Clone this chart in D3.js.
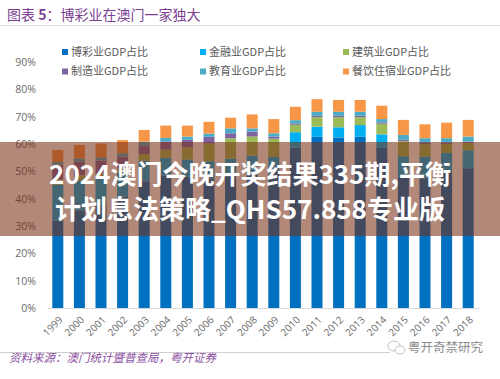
<!DOCTYPE html>
<html><head><meta charset="utf-8">
<script src="https://cdn.jsdelivr.net/npm/d3@7"></script>
<style>
html,body{margin:0;padding:0;background:#fff;}
svg{display:block;}
</style></head>
<body>
<svg id="chart" width="500" height="379"></svg>
<script>
const years = ["1999","2000","2001","2002","2003","2004","2005","2006","2007","2008","2009","2010","2011","2012","2013","2014","2015","2016","2017","2018"];
const seriesNames = ["博彩业GDP占比","金融业GDP占比","建筑业GDP占比","制造业GDP占比","教育业GDP占比","餐饮住宿业GDP占比"];
const seriesColors = ["#0070C0","#00B0F0","#9BBB59","#8064A2","#4BACC6","#F79646"];
// values in percent
const gambling      = [32.0,35.8,37.8,40.7,46.4,48.5,48.1,47.3,48.2,48.8,50.0,58.8,62.7,62.5,62.7,58.6,48.0,47.5,49.5,51.2];
const finance       = [13.2,11.0,10.0, 9.0, 7.5, 6.5, 6.3, 6.5, 6.5, 7.0, 5.3, 5.6, 3.7, 3.7, 4.3, 5.0, 7.6, 8.0, 7.3, 6.6];
const construction  = [ 1.8, 1.8, 1.6, 1.6, 2.5, 3.0, 4.5, 6.5, 7.5, 7.0, 6.7, 2.7, 3.5, 3.7, 2.9, 3.9, 5.5, 4.5, 3.3, 2.7];
const manufacturing = [ 5.5, 5.0, 4.6, 4.2, 3.0, 3.0, 2.7, 2.4, 1.8, 1.8, 0.8, 0.5, 0.5, 0.5, 0.5, 0.5, 0.5, 0.5, 0.5, 0.5];
const education     = [ 1.0, 1.2, 1.2, 1.2, 1.5, 1.3, 1.2, 1.2, 1.8, 1.2, 1.2, 1.2, 1.5, 1.5, 1.5, 1.2, 1.8, 1.7, 1.6, 1.8];
const catering      = [ 4.4, 4.9, 5.0, 4.8, 4.3, 4.5, 4.0, 4.3, 3.9, 5.1, 5.2, 4.9, 4.6, 4.3, 4.3, 4.9, 5.5, 5.1, 5.7, 6.1];
const yTicks = [0,10,20,30,40,50,60,70,80,90];

const seriesData = [gambling, finance, construction, manufacturing, education, catering];
const table = years.map((y,i)=>{
  const o = {year:y};
  seriesNames.forEach((n,k)=>{ o[n] = seriesData[k][i]; });
  return o;
});

const svg = d3.select("#chart");
const CJK = "'Noto Sans CJK SC','Noto Sans',sans-serif";
const LAT = "'Open Sans','Liberation Sans',sans-serif";

// title
const title = svg.append("text").attr("x",7).attr("y",20)
  .attr("font-family",CJK).attr("font-size",14).attr("fill","#7B3F91");
title.append("tspan").text("图表 ");
title.append("tspan").attr("font-weight","bold").text("5");
title.append("tspan").text("：博彩业在澳门一家独大");
svg.append("line").attr("x1",0).attr("x2",500).attr("y1",25.5).attr("y2",25.5)
  .attr("stroke","#DCDCDC").attr("stroke-width",1);

const x = d3.scaleBand().domain(years).range([47,479]).paddingInner(0.49).paddingOuter(0.245);
const y = d3.scaleLinear().domain([0,90]).range([308,62.3]);

const stacked = d3.stack().keys(seriesNames)(table);

svg.append("g").selectAll("g").data(stacked).join("g")
  .attr("fill",(d,i)=>seriesColors[i])
  .selectAll("rect").data(d=>d).join("rect")
  .attr("x",d=>x(d.data.year))
  .attr("width",x.bandwidth())
  .attr("y",d=>y(d[1]))
  .attr("height",d=>y(d[0])-y(d[1]));

// y axis
const yAxis = d3.axisLeft(y).tickValues(yTicks).tickFormat(d=>d+"%").tickSize(0).tickPadding(0);
const gy = svg.append("g").attr("transform","translate(36,0)").call(yAxis);
gy.select(".domain").remove();
gy.selectAll("text").attr("font-family",LAT).attr("font-size",10.5).attr("fill","#6a6a6a");

// x axis
const xAxis = d3.axisBottom(x).tickSize(0).tickPadding(0);
const gx = svg.append("g").attr("transform","translate(0,308)").call(xAxis);
gx.select(".domain").attr("stroke","#D9D9D9");
gx.selectAll("text").attr("font-family",LAT).attr("font-size",10).attr("fill","#6a6a6a")
  .attr("text-anchor","end").attr("dy","0.35em")
  .attr("transform","translate(3,10) rotate(-45)");

// legend
const legPos = [[62,52],[200,52],[343,52],[62,71.5],[200,71.5],[343,71.5]];
const leg = svg.append("g").selectAll("g").data(seriesNames).join("g")
  .attr("transform",(d,i)=>`translate(${legPos[i][0]},${legPos[i][1]})`);
leg.append("rect").attr("x",0).attr("y",-3).attr("width",6).attr("height",6)
  .attr("fill",(d,i)=>seriesColors[i]);
leg.append("text").attr("x",9).attr("y",0).attr("dy","0.36em")
  .attr("font-family",CJK).attr("font-size",11).attr("fill","#595959").text(d=>d);

// footer
svg.append("line").attr("x1",0).attr("x2",390).attr("y1",352.5).attr("y2",352.5)
  .attr("stroke","#D0D0D0").attr("stroke-width",1);
svg.append("text").attr("x",9).attr("y",362)
  .attr("font-family",CJK).attr("font-size",11.5).attr("font-style","italic").attr("fill","#8A4FA0")
  .text("资料来源：澳门统计暨普查局，粤开证券");
// watermark
const wm = svg.append("g").attr("transform","translate(388,341)").attr("opacity",0.7);
wm.append("ellipse").attr("cx",6).attr("cy",5).attr("rx",6).attr("ry",5).attr("fill","none").attr("stroke","#aaa").attr("stroke-width",1);
wm.append("ellipse").attr("cx",12).attr("cy",9).attr("rx",5).attr("ry",4).attr("fill","#fff").attr("stroke","#aaa").attr("stroke-width",1);
svg.append("text").attr("x",408).attr("y",352)
  .attr("font-family",CJK).attr("font-size",12.5).attr("fill","#8c8c8c")
  .text("粤开奇禁研究");

// overlay banner
svg.append("rect").attr("x",0).attr("y",142).attr("width",500).attr("height",94)
  .attr("fill","rgb(120,45,20)").attr("fill-opacity",0.57);
svg.append("text").attr("x",250).attr("y",175).attr("text-anchor","middle").attr("dy","0.35em")
  .attr("font-family",CJK).attr("font-weight","bold").attr("font-size",26).attr("fill","#fff")
  .text("2024澳门今晚开奖结果335期,平衡");
svg.append("text").attr("x",250).attr("y",210).attr("text-anchor","middle").attr("dy","0.35em")
  .attr("font-family",CJK).attr("font-weight","bold").attr("font-size",26).attr("fill","#fff")
  .text("计划息法策略_QHS57.858专业版");
</script>
</body></html>
